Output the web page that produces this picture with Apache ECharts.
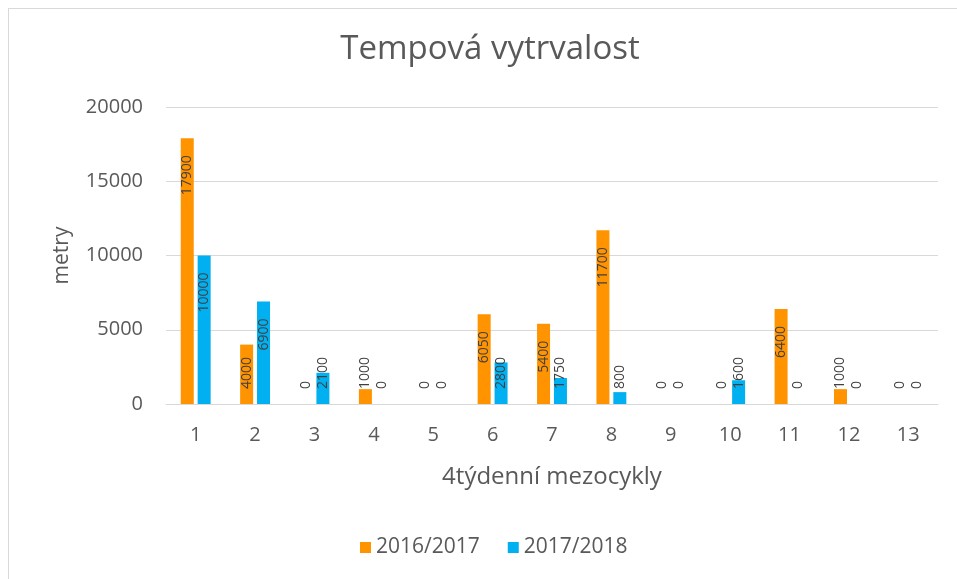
<!DOCTYPE html>
<html>
<head>
<meta charset="utf-8">
<script src="https://cdn.jsdelivr.net/npm/echarts@6/dist/echarts.min.js"></script>
<style>
html,body{margin:0;padding:0;background:#fff;}
#frame{position:absolute;left:8px;top:8px;width:1000px;height:700px;border:1px solid #d9d9d9;box-sizing:border-box;}
#chart{position:absolute;left:0;top:0;width:957px;height:579px;}
</style>
</head>
<body>
<div id="frame"></div>
<div id="chart"></div>
<script>
const categories = ['1','2','3','4','5','6','7','8','9','10','11','12','13'];
const seriesNames = ['2016/2017', '2017/2018'];
const values2016 = [17900, 4000, 0, 1000, 0, 6050, 5400, 11700, 0, 0, 6400, 1000, 0];
const values2018 = [10000, 6900, 2100, 0, 0, 2800, 1750, 800, 0, 1600, 0, 0, 0];
const yTicks = [0, 5000, 10000, 15000, 20000];
const colors = ['#FF9300', '#00B0F0'];

const FONT = '"Open Sans", "Noto Sans", sans-serif';
const LABEL_THRESHOLD = 4500;

function toData(arr) {
  return arr.map(v => {
    const top = v >= LABEL_THRESHOLD;
    return {
      value: v,
      label: top
        ? { position: 'insideTop', align: 'right', verticalAlign: 'middle', distance: 17 }
        : { position: 'insideBottom', align: 'left', verticalAlign: 'middle', distance: 15 }
    };
  });
}

const chart = echarts.init(document.getElementById('chart'), null, { renderer: 'canvas' });

const baseLabel = {
  show: true,
  rotate: 90,
  fontFamily: FONT,
  fontSize: 14,
  color: '#404040'
};

chart.setOption({
  animation: false,
  backgroundColor: 'transparent',
  textStyle: { fontFamily: FONT },
  title: {
    text: 'Tempová vytrvalost',
    left: 485, top: 28,
    textAlign: 'center',
    textStyle: { fontFamily: FONT, fontSize: 33, fontWeight: 'normal', color: '#595959' }
  },
  legend: {
    data: seriesNames,
    left: 355, top: 532,
    itemWidth: 11, itemHeight: 11, itemGap: 28,
    icon: 'rect',
    textStyle: { fontFamily: FONT, fontSize: 21, color: '#595959' }
  },
  grid: { left: 166, right: 19, top: 107, bottom: 175, containLabel: false },
  xAxis: {
    type: 'category',
    data: categories,
    name: '4týdenní mezocykly',
    nameLocation: 'middle',
    nameGap: 61,
    nameTextStyle: { fontFamily: FONT, fontSize: 24, color: '#595959' },
    axisLine: { show: true, lineStyle: { color: '#d9d9d9', width: 1 } },
    axisTick: { show: false },
    axisLabel: { fontFamily: FONT, fontSize: 20, color: '#595959', margin: 21 }
  },
  yAxis: {
    type: 'value',
    min: yTicks[0], max: yTicks[yTicks.length - 1], interval: yTicks[1] - yTicks[0],
    name: 'metry',
    nameLocation: 'middle',
    nameGap: 93,
    nameRotate: 90,
    nameTextStyle: { fontFamily: FONT, fontSize: 21, color: '#595959' },
    axisLine: { show: false },
    axisTick: { show: false },
    splitLine: { show: true, lineStyle: { color: '#d9d9d9', width: 1 } },
    axisLabel: { fontFamily: FONT, fontSize: 20, color: '#595959', margin: 23, formatter: v => String(v) }
  },
  series: [
    {
      name: seriesNames[0], type: 'bar', data: toData(values2016),
      barWidth: 13, barGap: '30%',
      itemStyle: { color: colors[0] },
      label: baseLabel
    },
    {
      name: seriesNames[1], type: 'bar', data: toData(values2018),
      barWidth: 13, barGap: '30%',
      itemStyle: { color: colors[1] },
      label: baseLabel
    }
  ]
});
</script>
</body>
</html>
